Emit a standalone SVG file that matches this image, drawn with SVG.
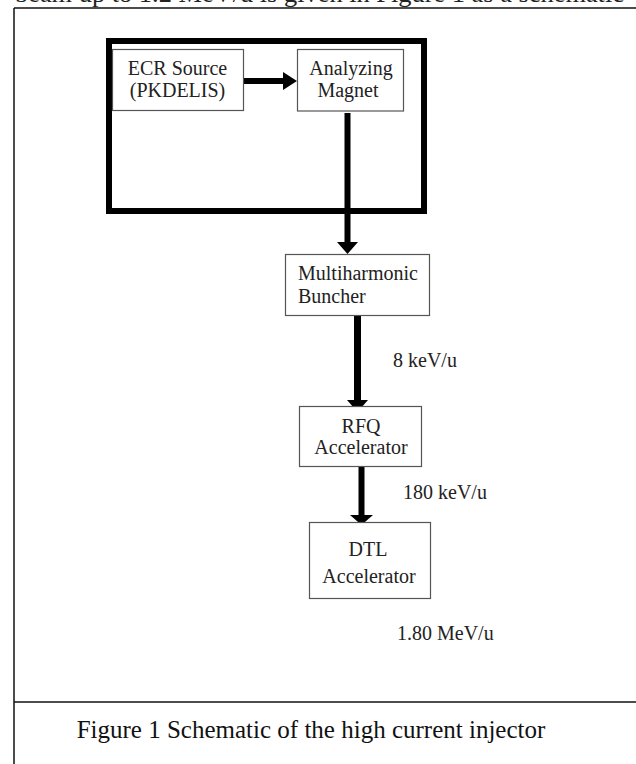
<svg xmlns="http://www.w3.org/2000/svg" width="636" height="764" viewBox="0 0 636 764">
<style>
.t{font-family:"Liberation Serif","Times New Roman",serif;font-size:20px;fill:#222}
.box{fill:#fff;stroke:#555;stroke-width:1.2}
.frame{stroke:#111;stroke-width:1.5;fill:none}
.thick{fill:none;stroke:#000;stroke-width:6}
.shaft{stroke:#000;fill:none}
.head{fill:#000}
</style>
<rect width="636" height="764" fill="#fff"/>
<text class="t" x="15" y="2" style="font-size:26px" textLength="609" lengthAdjust="spacingAndGlyphs">beam up to 1.2 MeV/u is given in Figure 1 as a schematic</text>
<g id="frame">
<line class="frame" x1="14" y1="8" x2="636" y2="8"/>
<line class="frame" x1="14" y1="8" x2="14" y2="764"/>
<line class="frame" x1="14" y1="702" x2="636" y2="702"/>
</g>
<g id="enclosure"><rect class="thick" x="109" y="41" width="315" height="170"/></g>
<g id="connectors">
<line class="shaft" x1="243" y1="81" x2="284" y2="81" stroke-width="6"/>
<polygon class="head" points="283,72 297,81 283,90"/>
<line class="shaft" x1="347.5" y1="113" x2="347.5" y2="243" stroke-width="6"/>
<polygon class="head" points="337,242 358,242 347.5,254"/>
<line class="shaft" x1="357.5" y1="316" x2="357.5" y2="401" stroke-width="7"/>
<polygon class="head" points="347,400 368,400 357.5,412"/>
<line class="shaft" x1="361.5" y1="467" x2="361.5" y2="516" stroke-width="6"/>
<polygon class="head" points="350,515 373,515 361.5,525"/>
</g>
<g id="ecr"><rect class="box" x="112.5" y="49.5" width="131" height="61"/>
<text class="t" x="177.5" y="75" text-anchor="middle">ECR Source</text>
<text class="t" x="177.5" y="97" text-anchor="middle">(PKDELIS)</text></g>
<g id="magnet"><rect class="box" x="297.5" y="49.5" width="106" height="61.5"/>
<text class="t" x="351" y="75" text-anchor="middle">Analyzing</text>
<text class="t" x="348" y="97" text-anchor="middle">Magnet</text></g>
<g id="buncher"><rect class="box" x="285.5" y="254.5" width="144" height="61"/>
<text class="t" x="298" y="280">Multiharmonic</text>
<text class="t" x="298" y="303">Buncher</text></g>
<g id="rfq"><rect class="box" x="299.5" y="406.5" width="122" height="60"/>
<text class="t" x="361" y="433" text-anchor="middle">RFQ</text>
<text class="t" x="361" y="454" text-anchor="middle">Accelerator</text></g>
<g id="dtl"><rect class="box" x="309.5" y="522.5" width="121" height="76"/>
<text class="t" x="368" y="556" text-anchor="middle">DTL</text>
<text class="t" x="369" y="583" text-anchor="middle">Accelerator</text></g>
<g id="labels">
<text class="t" x="393" y="367">8 keV/u</text>
<text class="t" x="403" y="499">180 keV/u</text>
<text class="t" x="397" y="640">1.80 MeV/u</text>
</g>
<text class="t" x="311" y="738" text-anchor="middle" style="font-size:25px;fill:#111">Figure 1 Schematic of the high current injector</text>
</svg>
